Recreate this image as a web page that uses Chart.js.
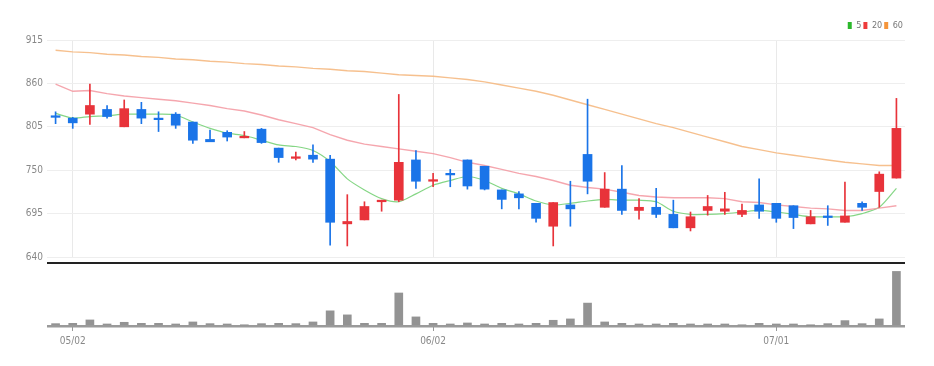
<!DOCTYPE html>
<html><head><meta charset="utf-8">
<script src="https://cdn.jsdelivr.net/npm/chart.js@4.4.1/dist/chart.umd.min.js"></script>
<style>
html,body{margin:0;padding:0;background:#fff;}
#wrap{position:relative;width:934px;height:366px;overflow:hidden;}
#top{position:absolute;left:0;top:0;width:934px;height:267px;}
#bot{position:absolute;left:0;top:258px;width:934px;height:108px;}
</style></head><body>
<div id="wrap"><div id="top"><canvas id="c1"></canvas></div><div id="bot"><canvas id="c2"></canvas></div></div>
<script>
const dates = ['04/29','05/02','05/03','05/04','05/06','05/09','05/10','05/11','05/12','05/13',
 '05/16','05/17','05/18','05/19','05/20','05/23','05/24','05/25','05/26','05/27',
 '05/30','05/31','06/02','06/03','06/07','06/08','06/09','06/10','06/13','06/14',
 '06/15','06/16','06/17','06/20','06/21','06/22','06/23','06/24','06/27','06/28',
 '06/29','06/30','07/01','07/04','07/05','07/06','07/07','07/08','07/11','07/12'];
const opens  = [819,816,821,827,805,827,816,821,811,789, 798,791,802,778,765,769,764,682,687,710,
                712,763,736,746,763,755,725,720,708,679, 706,770,703,726,699,703,694,677,699,698,
                694,706,708,705,682,692,684,708,723,740];
const highs  = [824,817,859,832,839,836,824,823,811,801, 800,799,803,778,773,782,769,719,710,712,
                846,775,746,751,763,755,725,723,708,709, 736,840,747,756,714,727,712,697,718,722,
                707,739,708,705,699,705,735,710,748,841];
const lows   = [809,803,808,816,805,809,799,803,784,786, 787,791,784,760,763,760,655,654,687,698,
                710,727,729,729,726,725,701,701,684,654, 679,720,703,694,688,690,677,673,693,694,
                691,689,684,676,682,680,684,699,703,740];
const closes = [817,810,832,818,828,816,814,807,788,786, 792,793,785,766,767,764,684,685,704,712,
                760,736,738,744,730,726,713,715,689,709, 701,736,726,699,703,694,677,691,704,701,
                699,698,689,690,691,690,692,703,745,803];
const ma5  = [822,816,818,819,821,821,821,820,811,803, 797,794,788,782,780,775,761,739,725,714,
              710,720,731,737,742,737,727,720,711,706, 708,711,713,712,712,710,698,694,694,695,
              697,699,697,694,691,691,691,695,703,727];
const ma20 = [859,850,851,847,844,842,840,838,835,832, 828,825,820,814,809,804,795,788,783,780,
              777,774,771,766,760,756,751,746,742,737, 731,728,726,722,718,716,715,715,715,714,
              710,709,706,704,702,701,699,699,702,705];
const ma60 = [902,900,899,897,896,894,893,891,890,888, 887,885,884,882,881,879,878,876,875,873,
              871,870,869,867,865,862,858,854,850,845, 839,833,827,821,815,809,804,798,792,786,
              780,776,772,769,766,763,760,758,756,756];
const volumes = [7000,8000,18000,6000,11000,8000,8000,6000,12000,7000, 6000,3000,7000,8000,7000,12000,45000,33000,8000,8000,
                 98000,27000,8000,6000,9000,6000,8000,6000,8000,17000, 21000,68000,12000,8000,6000,6000,8000,6000,6000,6000,
                 3000,8000,6000,6000,2000,7000,16000,7000,21000,162000];
const yTicks = [640,695,750,805,860,915];
const labelDates = ['05/02','06/02','07/01'];
const maLabels = ['5','20','60'];

const FONT = "'Liberation Sans Narrow','DejaVu Sans Condensed',sans-serif";
Chart.defaults.font.family = FONT;
const RED = '#e8333a', BLUE = '#1a74e8';
const legendColors = ['#2cb82c','#ee3b3b','#f5953a'];
const candleColors = closes.map((c,i)=> c >= opens[i] ? RED : BLUE);
const showIdx = i => labelDates.includes(dates[i]);

new Chart(document.getElementById('c1'), {
  type: 'bar',
  data: { labels: dates, datasets: [
    {label: maLabels[0], type:'line', data: ma5,  borderColor:'rgba(120,210,120,0.9)', backgroundColor: legendColors[0], borderWidth:1.2, pointRadius:0, tension:0.25, order:5},
    {label: maLabels[1], type:'line', data: ma20, borderColor:'rgba(243,150,160,0.85)', backgroundColor: legendColors[1], borderWidth:1.4, pointRadius:0, tension:0, order:4},
    {label: maLabels[2], type:'line', data: ma60, borderColor:'rgba(245,185,130,0.9)', backgroundColor: legendColors[2], borderWidth:1.4, pointRadius:0, tension:0, order:3},
    {label:'wick', data: lows.map((l,i)=>[l, highs[i]]), backgroundColor: candleColors, barThickness:1, grouped:false, order:2},
    {label:'body', data: opens.map((o,i)=>[o, closes[i]]), backgroundColor: candleColors, barThickness:9, minBarLength:1.5, grouped:false, order:1}
  ]},
  options: {
    responsive:true, maintainAspectRatio:false, animation:false,
    layout:{padding:{left:0,right:29,top:19,bottom:1}},
    plugins:{
      tooltip:{enabled:false},
      legend:{position:'top', align:'end', labels:{
        boxWidth:4, boxHeight:7, padding:2, color:'#777', font:{size:9},
        generateLabels: chart => chart.data.datasets.slice(0,3).map((d,i)=>({
          text:d.label, fillStyle:legendColors[i], strokeStyle:legendColors[i], lineWidth:0,
          hidden:false, datasetIndex:i, fontColor:'#777'}))
      }}
    },
    scales:{
      x:{offset:true, ticks:{display:false}, border:{display:false},
         grid:{offset:false, drawTicks:false, color: ctx => showIdx(ctx.index) ? '#e9e9e9' : 'rgba(0,0,0,0)'}},
      y:{min:640, max:915,
         afterBuildTicks: s => { s.ticks = yTicks.map(v=>({value:v})); },
         afterFit: s => { s.width = 47; },
         border:{display:false},
         grid:{color:'#eeeeee', drawTicks:false},
         ticks:{color:'#888', font:{size:10}, padding:4}}
    }
  }
});

const volAxisMax = 187000;
new Chart(document.getElementById('c2'), {
  type:'bar',
  data:{labels: dates, datasets:[{label:'volume', data: volumes, backgroundColor:'rgba(135,135,135,0.9)', barThickness:8}]},
  options:{
    responsive:true, maintainAspectRatio:false, animation:false,
    layout:{padding:{left:0,right:29,top:5,bottom:15}},
    plugins:{legend:{display:false}, tooltip:{enabled:false}},
    scales:{
      x:{offset:true, border:{display:false},
         grid:{offset:false, drawOnChartArea:false, drawTicks:true, tickLength:5,
               tickColor: ctx => showIdx(ctx.index) ? '#999' : 'rgba(0,0,0,0)'},
         ticks:{autoSkip:false, maxRotation:0, color:'#888', font:{size:10}, padding:4,
                callback:(v,i) => showIdx(i) ? dates[i] : ''}},
      y:{min:0, max:volAxisMax,
         afterBuildTicks: s => { s.ticks = [{value:0},{value:volAxisMax}]; },
         afterFit: s => { s.width = 47; },
         ticks:{display:false}, border:{display:false},
         grid:{drawTicks:false, color: ctx => ctx.tick.value === 0 ? '#9a9a9a' : '#222',
               lineWidth: ctx => ctx.tick.value === 0 ? 2.5 : 2}}
    }
  }
});
</script>
</body></html>
